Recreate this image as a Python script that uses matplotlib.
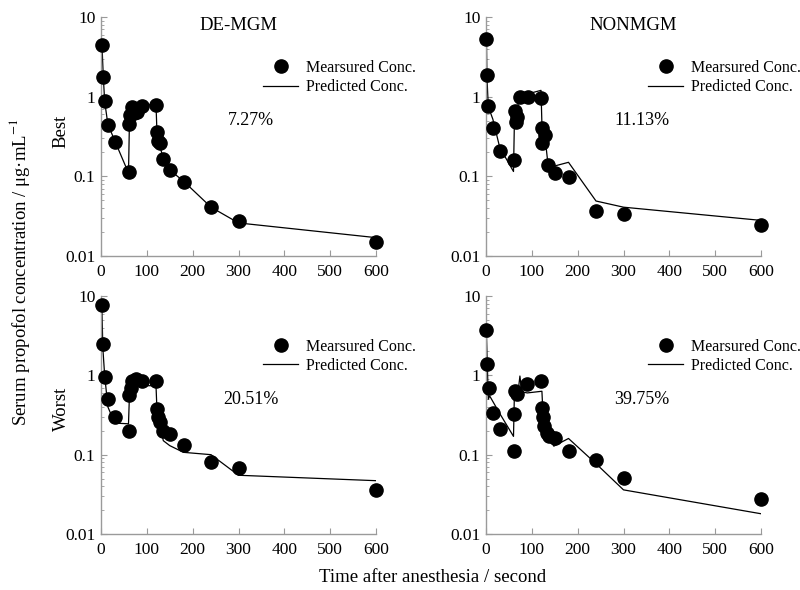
import matplotlib
matplotlib.use("Agg")
import matplotlib.pyplot as plt
from matplotlib.ticker import FixedLocator, LogLocator, NullFormatter

plt.rcParams["font.family"] = ["Liberation Serif", "DejaVu Serif"]
plt.rcParams["mathtext.fontset"] = "stix"

# DE-MGM, best case
demgm_best_t = [2, 5, 8, 15, 30, 60, 62, 64, 67, 72, 78, 90, 120, 122, 124, 128, 135, 150, 180, 240, 300, 600]
demgm_best_meas = [4.5, 1.75, 0.87, 0.44, 0.27, 0.112, 0.45, 0.59, 0.75, 0.62, 0.65, 0.76, 0.79,
                   0.36, 0.28, 0.26, 0.166, 0.12, 0.086, 0.041, 0.0275, 0.0149]
demgm_best_pred_t = demgm_best_t
demgm_best_pred = [4.6, 1.8, 0.87, 0.45, 0.28, 0.11, 0.47, 0.6, 0.72, 0.64, 0.66, 0.78, 0.8,
                   0.37, 0.29, 0.25, 0.17, 0.12, 0.087, 0.041, 0.026, 0.017]

# NONMGM, best case
nonmgm_best_t = [1, 2, 5, 15, 30, 60, 63, 65, 68, 75, 91, 120, 122, 123, 129, 136, 151, 180, 240, 300, 600]
nonmgm_best_meas = [5.3, 1.87, 0.77, 0.41, 0.21, 0.16, 0.66, 0.48, 0.55, 1.0, 1.0, 0.97, 0.41,
                    0.26, 0.33, 0.138, 0.11, 0.098, 0.037, 0.0335, 0.0245]
nonmgm_best_pred_t = [1, 2, 5, 15, 30, 60, 62, 65, 70, 75, 90, 120, 122, 125, 129, 136, 150, 180, 240, 300, 600]
nonmgm_best_pred = [5.0, 1.8, 0.75, 0.52, 0.23, 0.115, 0.5, 0.62, 0.8, 1.0, 1.08, 1.2, 0.45,
                    0.34, 0.3, 0.13, 0.135, 0.15, 0.049, 0.041, 0.028]

# DE-MGM, worst case
demgm_worst_t = [2, 4, 8, 15, 30, 60, 62, 65, 67, 77, 90, 120, 122, 124, 128, 136, 150, 180, 240, 300, 600]
demgm_worst_meas = [7.8, 2.45, 0.95, 0.50, 0.30, 0.196, 0.57, 0.70, 0.86, 0.89, 0.85, 0.86,
                    0.38, 0.30, 0.26, 0.20, 0.18, 0.134, 0.082, 0.068, 0.036]
demgm_worst_pred_t = [2, 4, 8, 15, 30, 60, 62, 67, 75, 90, 120, 122, 124, 128, 136, 150, 180, 240, 300, 600]
demgm_worst_pred = [7.0, 2.2, 1.0, 0.40, 0.25, 0.245, 0.55, 0.68, 0.73, 0.74, 0.74,
                    0.38, 0.30, 0.24, 0.15, 0.13, 0.107, 0.10, 0.055, 0.047]

# NONMGM, worst case
nonmgm_worst_t = [1, 3, 7, 15, 30, 60, 61, 64, 68, 90, 120, 122, 124, 127, 132, 138, 150, 180, 240, 300, 600]
nonmgm_worst_meas = [3.7, 1.4, 0.69, 0.34, 0.21, 0.111, 0.33, 0.64, 0.58, 0.78, 0.85, 0.39,
                     0.30, 0.23, 0.19, 0.17, 0.163, 0.11, 0.086, 0.051, 0.0275]
nonmgm_worst_pred_t = [1, 3, 5, 8, 30, 60, 62, 70, 74, 78, 90, 122, 124, 127, 132, 138, 148, 180, 240, 300, 600]
nonmgm_worst_pred = [3.2, 1.3, 0.5, 0.55, 0.33, 0.17, 0.6, 0.62, 0.98, 0.62, 0.6, 0.63,
                     0.36, 0.27, 0.2, 0.16, 0.128, 0.16, 0.077, 0.036, 0.018]

panels = [
    (demgm_best_t, demgm_best_meas, demgm_best_pred_t, demgm_best_pred, "7.27%", 0.545),
    (nonmgm_best_t, nonmgm_best_meas, nonmgm_best_pred_t, nonmgm_best_pred, "11.13%", 0.567),
    (demgm_worst_t, demgm_worst_meas, demgm_worst_pred_t, demgm_worst_pred, "20.51%", 0.545),
    (nonmgm_worst_t, nonmgm_worst_meas, nonmgm_worst_pred_t, nonmgm_worst_pred, "39.75%", 0.567),
]
col_titles = ["DE-MGM", "NONMGM"]
row_labels = ["Best", "Worst"]

x_ticks = [0, 100, 200, 300, 400, 500, 600]
y_ticks = [0.01, 0.1, 1, 10]
y_tick_labels = ["0.01", "0.1", "1", "10"]

W, H = 800, 590
fig = plt.figure(figsize=(W / 100, H / 100), dpi=100)

lefts = [101, 486]
tops = [17, 296]
bottoms = [256, 534]
width_px = 275

spine_col = "#9a9a9a"

for i, (tm, cm, tp, cp, pct, pct_x) in enumerate(panels):
    r, c = divmod(i, 2)
    ax = fig.add_axes([lefts[c] / W, 1 - bottoms[r] / H, width_px / W, (bottoms[r] - tops[r]) / H])
    ax.plot(tp, cp, color="black", linewidth=0.9, label="Predicted Conc.", zorder=2)
    ax.plot(tm, cm, "o", color="black", markersize=9.5, label="Mearsured Conc.",
            clip_on=False, zorder=3)
    ax.set_yscale("log")
    ax.set_xlim(0, 600)
    ax.set_ylim(0.01, 10)
    ax.xaxis.set_major_locator(FixedLocator(x_ticks))
    ax.yaxis.set_major_locator(FixedLocator(y_ticks))
    ax.set_yticklabels(y_tick_labels)
    ax.yaxis.set_minor_locator(LogLocator(base=10, subs=range(2, 10), numticks=10))
    ax.yaxis.set_minor_formatter(NullFormatter())
    for s in ["top", "right"]:
        ax.spines[s].set_visible(False)
    for s in ["left", "bottom"]:
        ax.spines[s].set_color(spine_col)
        ax.spines[s].set_linewidth(1.0)
    ax.tick_params(which="major", direction="in", length=4, color=spine_col, labelsize=12.5, pad=4)
    ax.tick_params(which="minor", direction="in", length=2, color=spine_col)
    ax.tick_params(axis="x", pad=6)

    h, l = ax.get_legend_handles_labels()
    ax.legend(h[::-1], l[::-1], loc="upper left", bbox_to_anchor=(0.59, 0.82),
              frameon=False, fontsize=11.5, handlelength=2.2, handletextpad=0.45,
              labelspacing=0.2, borderpad=0, borderaxespad=0)
    ax.text(pct_x, 0.565, pct, transform=ax.transAxes, ha="center", va="center", fontsize=13)

    if r == 0:
        ax.text([0.5, 0.535][c], 0.965, col_titles[c], transform=ax.transAxes,
                ha="center", va="center", fontsize=13.5)

for r, lab in enumerate(row_labels):
    yc = [131, 409][r]
    fig.text(61 / W, 1 - yc / H, lab, rotation=90, ha="center", va="center", fontsize=13.5)

fig.text(20 / W, 1 - 272 / H, "Serum propofol concentration / μg·mL$^{-1}$",
         rotation=90, ha="center", va="center", fontsize=13.5)
fig.text(433 / W, 1 - 578 / H, "Time after anesthesia / second",
         ha="center", va="center", fontsize=13.5)

fig.savefig("out.png", dpi=100)
